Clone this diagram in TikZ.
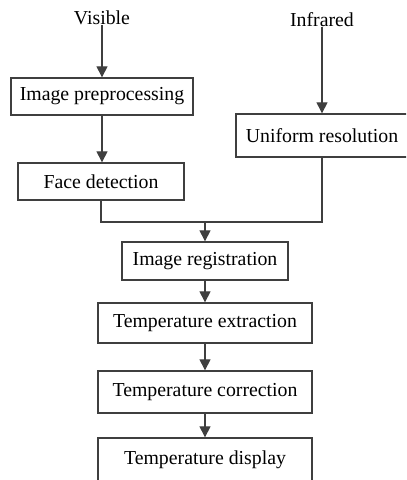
\documentclass[tikz,border=0pt]{standalone}
\usepackage{fontspec}
\setmainfont{Liberation Serif}
\usetikzlibrary{arrows.meta}
\definecolor{flowgray}{HTML}{3F3F3F}

\begin{document}
\begin{tikzpicture}[x=0.5pt, y=-0.5pt,
    stage/.style={draw=flowgray, line width=0.65pt, inner sep=0pt, align=center,
                  font=\fontsize{9.9}{11}\selectfont},
    source/.style={inner sep=0pt, font=\fontsize{9.9}{11}\selectfont},
    flow/.style={draw=flowgray, line width=0.55pt},
    flowarrow/.style={flow, -{Triangle[width=5.5pt,length=5.5pt]}}]
    \useasboundingbox (0,0) rectangle (406,480);
    \clip (0,0) rectangle (406,480);

    \node [source] (vis)  at (102,18)                                        {Visible};
    \node [source] (ir)   at (322,20)                                        {Infrared};
    \node [stage]  (prep) at (102,96.5) [minimum width=91pt, minimum height=18.5pt] {Image preprocessing};
    \node [stage]  (face) at (101,181.5)[minimum width=83pt, minimum height=18.5pt] {Face detection};
    \node [stage]  (unif) at (322,135.5)[minimum width=86pt, minimum height=21.5pt] {Uniform resolution};
    \node [stage]  (reg)  at (205,261)  [minimum width=83pt, minimum height=19pt]   {Image registration};
    \node [stage]  (ext)  at (205,323)  [minimum width=107pt, minimum height=20pt]  {Temperature extraction};
    \node [stage]  (corr) at (205,392)  [minimum width=107pt, minimum height=21pt]  {Temperature correction};
    \node [stage]  (disp) at (205,460)  [minimum width=107pt, minimum height=22pt]  {Temperature display};
    \coordinate (merge) at (205,222);

    \draw [flowarrow] (vis.south)  -- (prep.north);
    \draw [flowarrow] (prep.south) -- (prep.south |- face.north);
    \draw [flowarrow] (ir.south)   -- (unif.north);
    \draw [flow]      (face.south) |- (merge);
    \draw [flow]      (unif.south) |- (merge);
    \draw [flowarrow] (merge)      -- (reg.north);
    \draw [flowarrow] (reg.south)  -- (ext.north);
    \draw [flowarrow] (ext.south)  -- (corr.north);
    \draw [flowarrow] (corr.south) -- (disp.north);
\end{tikzpicture}
\end{document}
